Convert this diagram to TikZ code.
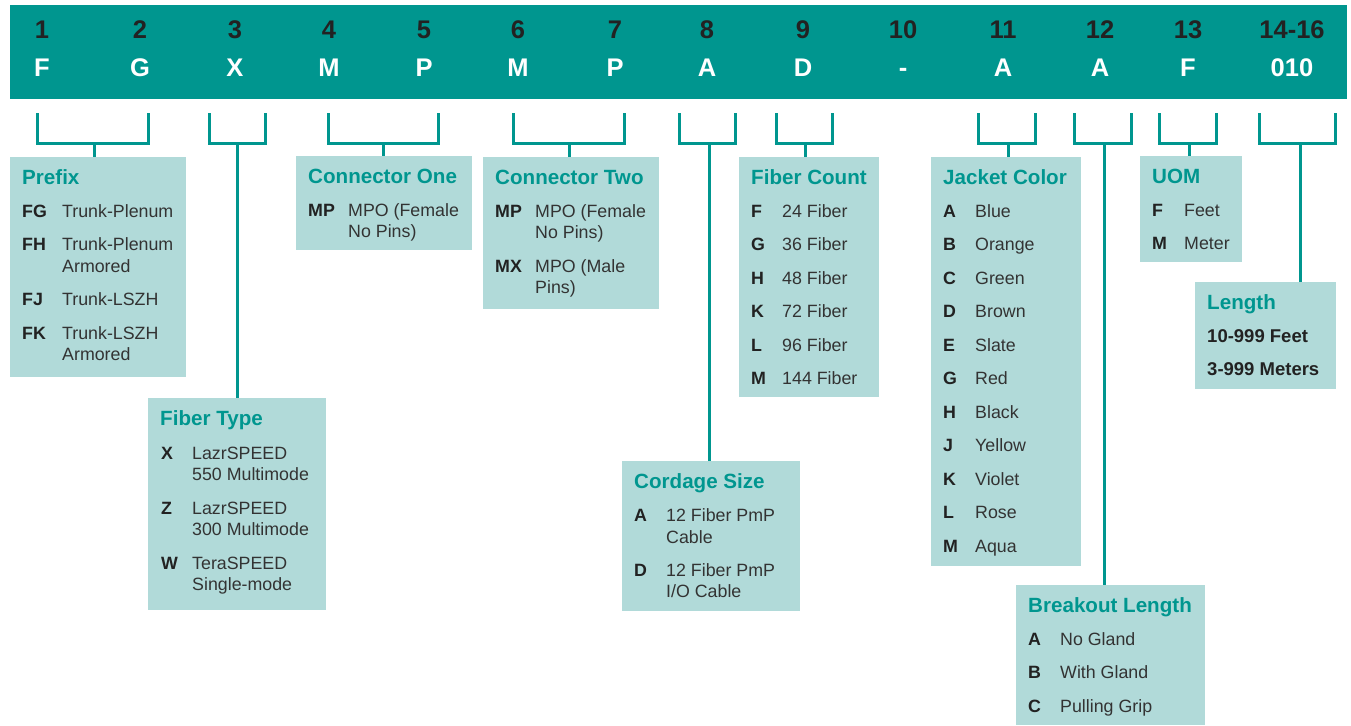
\documentclass[tikz,border=0pt]{standalone}
\usepackage{fontspec}
\setmainfont{Liberation Sans}
\definecolor{tealA}{HTML}{00968F}
\definecolor{lbox}{HTML}{B1DAD9}
\definecolor{txtc}{HTML}{333333}
\definecolor{codec}{HTML}{222222}
\begin{document}
\begin{tikzpicture}[x=1pt,y=-1pt,
  infobox/.style={fill=lbox, draw=none, anchor=north west, inner sep=0pt, outer sep=0pt},
  ttl/.style={anchor=base west, inner sep=0pt, text=tealA, font=\fontsize{20.6}{24}\selectfont\bfseries},
  code/.style={anchor=base west, inner sep=0pt, text=codec, font=\fontsize{17.8}{21}\selectfont\bfseries},
  desc/.style={anchor=base west, inner sep=0pt, text=txtc, font=\fontsize{17.8}{21}\selectfont},
  lenitem/.style={anchor=base west, inner sep=0pt, text=codec, font=\fontsize{18.5}{22}\selectfont\bfseries},
  hnum/.style={anchor=base, inner sep=0pt, text=codec, font=\fontsize{25.5}{30}\selectfont\bfseries},
  hlet/.style={anchor=base, inner sep=0pt, text=white, font=\fontsize{25.5}{30}\selectfont\bfseries},
  brk/.style={draw=tealA, line width=3pt, line join=miter},
]
\useasboundingbox (0,0) rectangle (1351,725);

% header bar
\node[fill=tealA, anchor=north west, inner sep=0pt, minimum width=1337pt, minimum height=94pt] (hdr) at (10,5) {};
\foreach \x/\n/\l [count=\i] in {42/1/F,140/2/G,235/3/X,329/4/M,424/5/P,518/6/M,615/7/P,707/8/A,803/9/D,903/10/-,1003/11/A,1100/12/A,1188/13/F,1292/14-16/010}{
  \node[hnum] (hn\i) at (\x,38) {\n};
  \node[hlet] (hl\i) at (\x,77) {\l};
}

% boxes
\node[infobox, minimum width=176pt, minimum height=220pt] (prefix) at (10,157) {};
\node[infobox, minimum width=176pt, minimum height=94pt] (con1) at (296,156) {};
\node[infobox, minimum width=178pt, minimum height=212pt] (ftype) at (148,398) {};
\node[infobox, minimum width=176pt, minimum height=152pt] (con2) at (483,157) {};
\node[infobox, minimum width=140pt, minimum height=240pt] (fcount) at (739,157) {};
\node[infobox, minimum width=178pt, minimum height=150pt] (cord) at (622,461) {};
\node[infobox, minimum width=150pt, minimum height=409pt] (jacket) at (931,157) {};
\node[infobox, minimum width=189pt, minimum height=140pt] (breakout) at (1016,585) {};
\node[infobox, minimum width=102pt, minimum height=106pt] (uom) at (1140,156) {};
\node[infobox, minimum width=141pt, minimum height=107pt] (length) at (1195,282) {};

% brackets and stems
\foreach \l/\r/\s/\tgt [count=\i] in {37/148/94/prefix,209/265/237/ftype,328/438/383/con1,513/624/569/con2,679/735/709/cord,776/832/805/fcount,978/1035/1008/jacket,1074/1131/1104/breakout,1159/1216/1189/uom,1259/1335/1300/length}{
  \coordinate (bl\i) at (\l,113);
  \coordinate (br\i) at (\r,113);
  \coordinate (bs\i) at (\s,143);
  \draw[brk] (bl\i) -- (bl\i |- bs\i) -- (br\i |- bs\i) -- (br\i);
  \draw[brk] (bs\i) -- (bs\i |- \tgt.north);
}

% Prefix
\node[ttl] (t-prefix) at (22,184) {Prefix};
\foreach \c/\d/\y [count=\i] in {FG/Trunk-Plenum/217,FH/Trunk-Plenum/250.5,FJ/Trunk-LSZH/305.5,FK/Trunk-LSZH/339}{
  \node[code] (pc\i) at (22,\y) {\c};
  \node[desc] (pd\i) at (62,\y) {\d};
}
\node[desc] (pa1) at (62,272) {Armored};
\node[desc] (pa2) at (62,360.5) {Armored};

% Fiber Type
\node[ttl] (t-ftype) at (160,425) {Fiber Type};
\foreach \c/\d/\e/\y [count=\i] in {X/LazrSPEED/550 Multimode/459,Z/LazrSPEED/300 Multimode/514,W/TeraSPEED/Single-mode/569}{
  \node[code] (fc\i) at (161,\y) {\c};
  \node[desc] (fd\i) at (192,\y) {\d};
  \node[desc] (fe\i) at (192,\y+21.5) {\e};
}

% Connector One
\node[ttl] (t-con1) at (308,183) {Connector One};
\node[code] (c1c) at (308,216) {MP};
\node[desc] (c1d) at (348,216) {MPO (Female};
\node[desc] (c1e) at (348,237.5) {No Pins)};

% Connector Two
\node[ttl] (t-con2) at (495,184) {Connector Two};
\node[code] (c2c1) at (495,217) {MP};
\node[desc] (c2d1) at (535,217) {MPO (Female};
\node[desc] (c2e1) at (535,238.5) {No Pins)};
\node[code] (c2c2) at (495,272) {MX};
\node[desc] (c2d2) at (535,272) {MPO (Male};
\node[desc] (c2e2) at (535,293.5) {Pins)};

% Fiber Count
\node[ttl] (t-fcount) at (751,184) {Fiber Count};
\foreach \c/\d [count=\i] in {F/24 Fiber,G/36 Fiber,H/48 Fiber,K/72 Fiber,L/96 Fiber,M/144 Fiber}{
  \node[code] (kc\i) at (751,{217+33.5*(\i-1)}) {\c};
  \node[desc] (kd\i) at (782,{217+33.5*(\i-1)}) {\d};
}

% Cordage Size
\node[ttl] (t-cord) at (634,488) {Cordage Size};
\node[code] (oc1) at (634,521.5) {A};
\node[desc] (od1) at (666,521.5) {12 Fiber PmP};
\node[desc] (oe1) at (666,543) {Cable};
\node[code] (oc2) at (634,576) {D};
\node[desc] (od2) at (666,576) {12 Fiber PmP};
\node[desc] (oe2) at (666,597.5) {I/O Cable};

% Jacket Color
\node[ttl] (t-jacket) at (943,184) {Jacket Color};
\foreach \c/\d [count=\i] in {A/Blue,B/Orange,C/Green,D/Brown,E/Slate,G/Red,H/Black,J/Yellow,K/Violet,L/Rose,M/Aqua}{
  \node[code] (jc\i) at (943,{217+33.5*(\i-1)}) {\c};
  \node[desc] (jd\i) at (975,{217+33.5*(\i-1)}) {\d};
}

% Breakout Length
\node[ttl] (t-breakout) at (1028,612) {Breakout Length};
\foreach \c/\d [count=\i] in {A/No Gland,B/With Gland,C/Pulling Grip}{
  \node[code] (xc\i) at (1028,{645+33.5*(\i-1)}) {\c};
  \node[desc] (xd\i) at (1060,{645+33.5*(\i-1)}) {\d};
}

% UOM
\node[ttl] (t-uom) at (1152,183) {UOM};
\node[code] (uc1) at (1152,216) {F};
\node[desc] (ud1) at (1184,216) {Feet};
\node[code] (uc2) at (1152,249.5) {M};
\node[desc] (ud2) at (1184,249.5) {Meter};

% Length
\node[ttl] (t-length) at (1207,309) {Length};
\node[lenitem] (l1) at (1207,342) {10-999 Feet};
\node[lenitem] (l2) at (1207,375.5) {3-999 Meters};
\end{tikzpicture}
\end{document}
